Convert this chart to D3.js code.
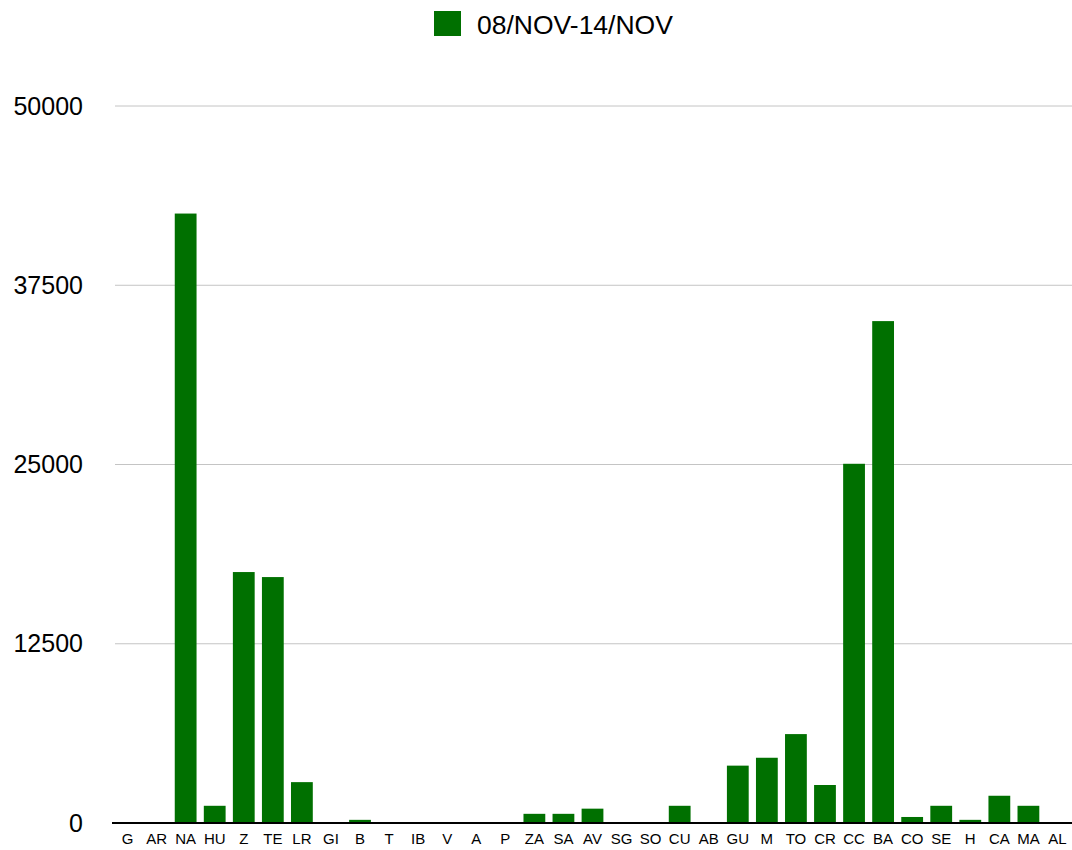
<!DOCTYPE html>
<html><head><meta charset="utf-8">
<script src="https://cdn.jsdelivr.net/npm/d3@7"></script>
<style>body{margin:0;background:#fff}svg{display:block}text{font-family:"Liberation Sans",Arial,Helvetica,sans-serif}</style>
</head><body><svg id="c" width="1072" height="850"></svg>
<script>
const categories = ["G","AR","NA","HU","Z","TE","LR","GI","B","T","IB","V","A","P","ZA","SA","AV","SG","SO","CU","AB","GU","M","TO","CR","CC","BA","CO","SE","H","CA","MA","AL"];
const values = [0,0,42500,1200,17500,17150,2850,0,220,0,0,0,0,0,640,640,1000,0,0,1200,0,4000,4550,6200,2650,25050,35000,420,1200,220,1900,1200,0];
const yTicks = [0,12500,25000,37500,50000];
const seriesName = "08/NOV-14/NOV";
const color = "#007000";

const svg = d3.select("#c");
const x = d3.scaleBand().domain(categories).range([113,1072]).paddingInner(0.25).paddingOuter(0.125);
const y = d3.scaleLinear().domain([0,50000]).range([823,106]);

// gridlines
svg.append("g").selectAll("line").data(yTicks.filter(d=>d>0)).join("line")
  .attr("x1",115).attr("x2",1072).attr("y1",d=>y(d)).attr("y2",d=>y(d))
  .attr("stroke","#c4c4c4").attr("stroke-width",1);

// y labels
const ya = svg.append("g").attr("transform","translate(83,0)")
  .call(d3.axisLeft(y).tickValues(yTicks).tickSize(0).tickPadding(0).tickFormat(d3.format("d")));
ya.select(".domain").remove();
ya.selectAll("text").attr("font-size",25).attr("fill","#000").attr("font-family","Liberation Sans, Arial, sans-serif");

// bars
svg.append("g").selectAll("rect").data(values).join("rect")
  .attr("x",(d,i)=>x(categories[i])).attr("width",x.bandwidth())
  .attr("y",d=>y(d)).attr("height",d=>y(0)-y(d)).attr("fill",color);

// x axis
const xa = svg.append("g").attr("transform",`translate(0,${y(0)})`)
  .call(d3.axisBottom(x).tickSize(0).tickPadding(10));
xa.select(".domain").attr("stroke","#000").attr("stroke-width",2).attr("d","M112,0H1072");
xa.selectAll("text").attr("font-size",15).attr("fill","#000").attr("font-family","Liberation Sans, Arial, sans-serif");

// legend
const lg = svg.append("g");
lg.append("rect").attr("x",434).attr("y",11).attr("width",27).attr("height",25).attr("fill",color);
lg.append("text").attr("x",477).attr("y",34).attr("font-size",26.5).text(seriesName);
</script></body></html>
